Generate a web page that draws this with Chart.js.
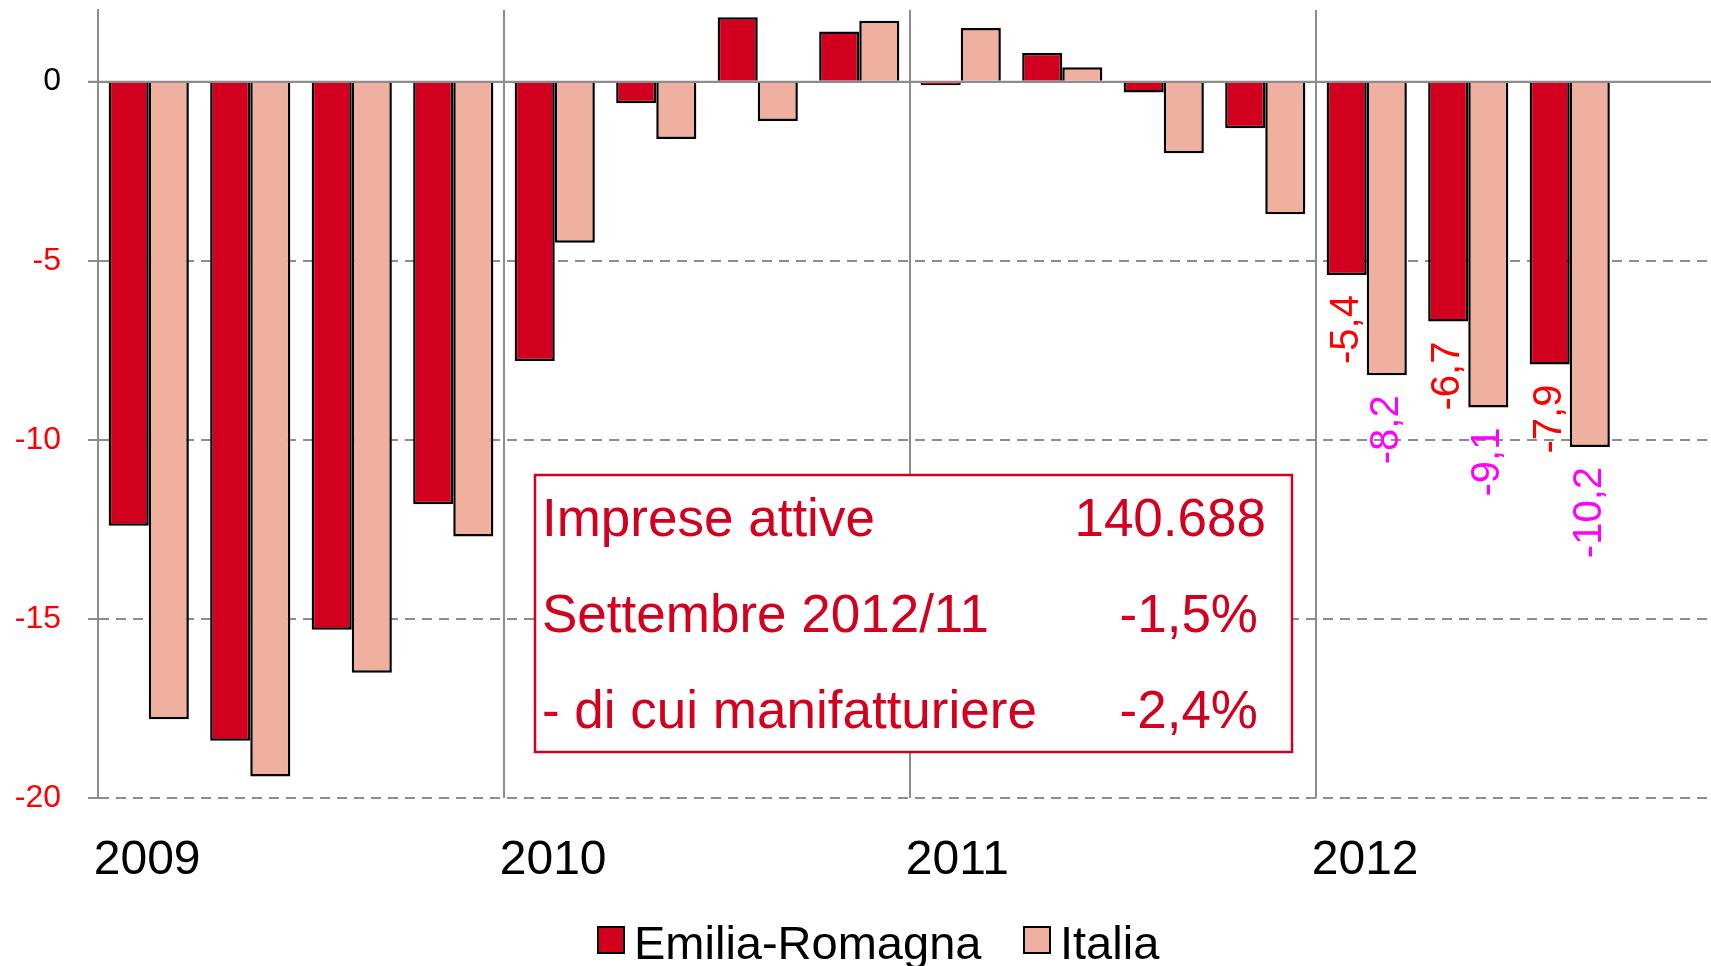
<!DOCTYPE html>
<html>
<head>
<meta charset="utf-8">
<script src="https://cdn.jsdelivr.net/npm/chart.js@4/dist/chart.umd.min.js"></script>
<style>
  html, body { margin: 0; padding: 0; background: #ffffff; overflow: hidden; width: 1711px; height: 966px; }
  #wrap { width: 1722px; height: 966px; position: relative; }
</style>
</head>
<body>
<div id="wrap"><canvas id="c" width="1722" height="966"></canvas></div>
<script>
// ---- data ----
const quarterLabels = [
  '2009 T1','2009 T2','2009 T3','2009 T4',
  '2010 T1','2010 T2','2010 T3','2010 T4',
  '2011 T1','2011 T2','2011 T3','2011 T4',
  '2012 T1','2012 T2','2012 T3','2012 T4'
];
const yearLabels = ['2009', '2010', '2011', '2012'];
const emiliaRomagna = [-12.4, -18.4, -15.3, -11.8, -7.8, -0.6, 1.8, 1.4, -0.1, 0.8, -0.3, -1.3, -5.4, -6.7, -7.9, null];
const italia        = [-17.8, -19.4, -16.5, -12.7, -4.5, -1.6, -1.1, 1.7, 1.5, 0.4, -2.0, -3.7, -8.2, -9.1, -10.2, null];
const yTickValues = [0, -5, -10, -15, -20];
const seriesNames = ['Emilia-Romagna', 'Italia'];
const labelledFrom = 12;            // quarters of 2012 carry value labels
const boxRows = [
  ['Imprese attive', '140.688'],
  ['Settembre 2012/11', '-1,5%'],
  ['- di cui manifatturiere', '-2,4%']
];

// ---- styles ----
const FONT = "'Liberation Sans', Arial, sans-serif";
const RED = '#D2001E';
const PINK = '#EFB0A0';
const GRID = '#8c8c8c';
const labelColors = ['#FF0000', '#FF00FF'];

const fmt = v => v.toFixed(1).replace('.', ',');

const overlayPlugin = {
  id: 'overlay',
  afterDatasetsDraw(chart) {
    const ctx = chart.ctx;
    const area = chart.chartArea;
    const ys = chart.scales.y;
    // solid zero line
    const y0 = ys.getPixelForValue(0);
    ctx.save();
    ctx.strokeStyle = GRID;
    ctx.lineWidth = 2;
    ctx.beginPath();
    ctx.moveTo(area.left - 10, y0);
    ctx.lineTo(area.right, y0);
    ctx.stroke();
    ctx.restore();

    // value labels (rotated) for 2012
    chart.data.datasets.forEach((ds, di) => {
      const meta = chart.getDatasetMeta(di);
      meta.data.forEach((bar, i) => {
        const v = ds.data[i];
        if (i < labelledFrom || v === null || v === undefined) return;
        ctx.save();
        ctx.translate(bar.x, bar.y + 20);
        ctx.rotate(-Math.PI / 2);
        ctx.font = '40px ' + FONT;
        ctx.fillStyle = labelColors[di];
        ctx.textAlign = 'right';
        ctx.textBaseline = 'middle';
        ctx.fillText(fmt(v), 0, 0);
        ctx.restore();
      });
    });

    // info box
    const bx = 535, by = 475, bw = 757, bh = 277;
    ctx.save();
    ctx.fillStyle = '#ffffff';
    ctx.fillRect(bx, by, bw, bh);
    ctx.strokeStyle = RED;
    ctx.lineWidth = 2.5;
    ctx.strokeRect(bx, by, bw, bh);
    ctx.font = '53px ' + FONT;
    ctx.fillStyle = RED;
    ctx.textBaseline = 'alphabetic';
    const baselines = [536, 632, 728];
    const rightEdges = [1266, 1258, 1258];
    boxRows.forEach((row, r) => {
      ctx.textAlign = 'left';
      ctx.fillText(row[0], 542, baselines[r]);
      ctx.textAlign = 'right';
      ctx.fillText(row[1], rightEdges[r], baselines[r]);
    });
    ctx.restore();
  },
  afterDraw(chart) {
    // legend
    const ctx = chart.ctx;
    const boxX = [598, 1024];
    const textX = [634, 1060];
    ctx.save();
    ctx.font = '47px ' + FONT;
    ctx.textBaseline = 'alphabetic';
    ctx.textAlign = 'left';
    chart.data.datasets.forEach((ds, di) => {
      ctx.fillStyle = ds.backgroundColor;
      ctx.fillRect(boxX[di], 927, 26, 26);
      ctx.strokeStyle = '#000000';
      ctx.lineWidth = 2;
      ctx.strokeRect(boxX[di], 927, 26, 26);
      ctx.fillStyle = '#000000';
      ctx.fillText(ds.label, textX[di], 959);
    });
    ctx.restore();
  }
};

new Chart(document.getElementById('c'), {
  type: 'bar',
  data: {
    labels: quarterLabels,
    datasets: [
      { label: seriesNames[0], data: emiliaRomagna, backgroundColor: RED, borderColor: '#000000', borderWidth: 2.5 },
      { label: seriesNames[1], data: italia, backgroundColor: PINK, borderColor: '#000000', borderWidth: 2.5 }
    ]
  },
  options: {
    responsive: false,
    devicePixelRatio: 1,
    animation: false,
    events: [],
    categoryPercentage: 0.79,
    barPercentage: 1.0,
    layout: { padding: { left: 0, right: 0, top: 10, bottom: 68 } },
    plugins: { legend: { display: false }, tooltip: { enabled: false } },
    scales: {
      x: {
        type: 'category',
        offset: true,
        grid: {
          offset: true,
          drawTicks: false,
          lineWidth: 2,
          color: c => (c.index % 4 === 0 ? GRID : 'rgba(0,0,0,0)')
        },
        border: { display: false },
        ticks: {
          autoSkip: false,
          maxRotation: 0,
          minRotation: 0,
          align: 'start',
          labelOffset: -55,
          padding: 34,
          color: '#000000',
          font: { family: FONT, size: 48 },
          callback: (value, index) => (index % 4 === 0 ? yearLabels[index / 4] : '')
        },
        afterFit: s => { s.height = 100; s.paddingLeft = 0; s.paddingRight = 0; }
      },
      y: {
        min: -20,
        max: 2,
        afterBuildTicks: s => { s.ticks = yTickValues.map(v => ({ value: v })); },
        afterFit: s => { s.width = 98; s.paddingTop = 0; s.paddingBottom = 0; },
        grid: {
          color: GRID,
          lineWidth: 2,
          drawTicks: true,
          tickLength: 10,
          tickColor: GRID,
          tickWidth: 2,
          tickBorderDash: []
        },
        border: {
          display: true,
          color: GRID,
          width: 2,
          dash: c => (c.tick && c.tick.value === 0 ? [] : [10, 7])
        },
        ticks: {
          padding: 27,
          color: c => (c.tick && c.tick.value === 0 ? '#000000' : '#FF0000'),
          font: { family: FONT, size: 32 },
          callback: v => String(v)
        }
      }
    }
  },
  plugins: [overlayPlugin]
});
</script>
</body>
</html>
